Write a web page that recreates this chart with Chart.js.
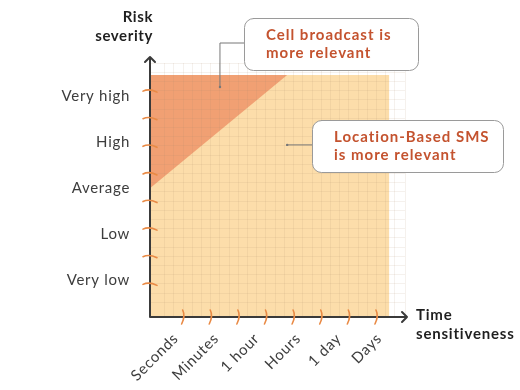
<!DOCTYPE html>
<html>
<head>
<meta charset="utf-8">
<script src="https://cdn.jsdelivr.net/npm/chart.js@4"></script>
<style>
html,body{margin:0;padding:0;background:#fff;}
canvas{display:block;}
</style>
</head>
<body>
<canvas id="c" width="520" height="390"></canvas>
<script>
// ---- data ----
const severityLabels = ['Very low', 'Low', 'Average', 'High', 'Very high'];
const severityValues = [3.35, 8.35, 13.35, 18.35, 23.35];
const timeLabels = ['Seconds', 'Minutes', '1 hour', 'Hours', '1 day', 'Days'];
const timeValues = [2.2, 6.6, 11.0, 15.5, 19.9, 24.3];
const xTickValues = [3, 6, 9, 12, 15, 18, 21, 24];
const yTickValues = [3, 6, 9, 12, 15, 18, 21, 24];
const smsRegion = [{x: -0.6, y: 25.7}, {x: 25.4, y: 25.7}];
const cellRegionEdge = [{x: -0.6, y: 13.4}, {x: 14.3, y: 25.7}];
const regionTop = 25.7;
const axisMin = -0.6;
const callouts = [
  {lines: ['Cell broadcast is', 'more relevant'], point: {x: 7.0, y: 24.4}},
  {lines: ['Location-Based SMS', 'is more relevant'], point: {x: 14.3, y: 18.1}}
];

const FONT = 'Lato, "Open Sans", sans-serif';

const decor = {
  id: 'decor',
  afterDraw(chart) {
    const ctx = chart.ctx;
    const xs = chart.scales.x, ys = chart.scales.y;
    const ox = xs.getPixelForValue(axisMin), oy = ys.getPixelForValue(axisMin);
    ctx.save();
    // axes
    ctx.strokeStyle = '#3a3a3a';
    ctx.lineWidth = 2;
    ctx.lineCap = 'round';
    ctx.lineJoin = 'round';
    const yTop = chart.chartArea.top - 6, xEnd = chart.chartArea.right + 2;
    ctx.beginPath();
    ctx.moveTo(ox, oy); ctx.lineTo(ox, yTop);
    ctx.moveTo(ox - 5, yTop + 5); ctx.lineTo(ox, yTop); ctx.lineTo(ox + 5, yTop + 5);
    ctx.moveTo(ox, oy); ctx.lineTo(xEnd, oy);
    ctx.moveTo(xEnd - 5, oy - 5); ctx.lineTo(xEnd, oy); ctx.lineTo(xEnd - 5, oy + 5);
    ctx.stroke();

    // orange tick marks
    ctx.strokeStyle = '#E98A45';
    ctx.lineWidth = 1.6;
    yTickValues.forEach(v => {
      const y = ys.getPixelForValue(v);
      ctx.beginPath();
      ctx.moveTo(ox - 7, y + 0.5);
      ctx.quadraticCurveTo(ox - 1, y - 2.5, ox + 7, y + 1.5);
      ctx.stroke();
    });
    xTickValues.forEach(v => {
      const x = xs.getPixelForValue(v);
      ctx.beginPath();
      ctx.moveTo(x - 0.5, oy - 7);
      ctx.quadraticCurveTo(x + 2.5, oy - 1, x - 1.5, oy + 7);
      ctx.stroke();
    });

    // y labels
    ctx.fillStyle = '#3d3d3d';
    ctx.font = '15px ' + FONT;
    ctx.letterSpacing = '0.7px';
    ctx.textAlign = 'right';
    ctx.textBaseline = 'middle';
    severityLabels.forEach((t, i) => {
      ctx.fillText(t, ox - 20, ys.getPixelForValue(severityValues[i]));
    });
    // x labels rotated
    timeLabels.forEach((t, i) => {
      const x = xs.getPixelForValue(timeValues[i]);
      ctx.save();
      ctx.translate(x, oy + 19);
      ctx.rotate(-Math.PI / 4);
      ctx.textAlign = 'right';
      ctx.textBaseline = 'middle';
      ctx.fillText(t, 0, 0);
      ctx.restore();
    });

    // axis titles
    ctx.fillStyle = '#1f1f1f';
    ctx.font = 'bold 15px ' + FONT;
    ctx.letterSpacing = '0.6px';
    ctx.textAlign = 'right';
    ctx.fillText('Risk', ox + 3, 17);
    ctx.fillText('severity', ox + 3, 36);
    ctx.textAlign = 'left';
    ctx.letterSpacing = '0.8px';
    ctx.fillText('Time', xEnd + 9, oy - 2);
    ctx.fillText('sensitiveness', xEnd + 9, oy + 17);

    // callouts
    const boxes = [{x: 244, y: 18, w: 174, h: 52}, {x: 312, y: 120, w: 191, h: 52}];
    callouts.forEach((c, i) => {
      const b = boxes[i];
      const px = xs.getPixelForValue(c.point.x), py = ys.getPixelForValue(c.point.y);
      ctx.strokeStyle = '#777';
      ctx.lineWidth = 1;
      ctx.beginPath();
      if (i === 0) {
        const ly = b.y + 25;
        ctx.moveTo(b.x, ly); ctx.lineTo(px, ly); ctx.lineTo(px, py);
      } else {
        ctx.moveTo(px, py); ctx.lineTo(b.x, py);
      }
      ctx.stroke();
      ctx.fillStyle = '#777';
      ctx.beginPath(); ctx.arc(px, py, 1.2, 0, Math.PI * 2); ctx.fill();
      ctx.fillStyle = '#fff';
      ctx.strokeStyle = '#9a9a9a';
      ctx.beginPath();
      ctx.roundRect(b.x + 0.5, b.y + 0.5, b.w, b.h, 9);
      ctx.fill(); ctx.stroke();
      ctx.fillStyle = '#C4532F';
      ctx.font = 'bold 15px ' + FONT;
      ctx.letterSpacing = '1px';
      ctx.textAlign = 'left';
      ctx.textBaseline = 'middle';
      ctx.fillText(c.lines[0], b.x + 22, b.y + 17);
      ctx.fillText(c.lines[1], b.x + 22, b.y + 35);
    });
    ctx.restore();
  }
};

new Chart(document.getElementById('c'), {
  type: 'scatter',
  data: {
    datasets: [
      {
        data: cellRegionEdge,
        showLine: true,
        borderWidth: 0,
        pointRadius: 0,
        backgroundColor: '#F1A073',
        fill: {value: regionTop}
      },
      {
        data: smsRegion,
        showLine: true,
        borderWidth: 0,
        pointRadius: 0,
        backgroundColor: '#FCDDAA',
        fill: {value: axisMin}
      }
    ]
  },
  options: {
    responsive: false,
    animation: false,
    events: [],
    layout: {padding: {left: 150, right: 115, top: 63, bottom: 73}},
    plugins: {legend: {display: false}, tooltip: {enabled: false}},
    scales: {
      x: {
        type: 'linear', min: axisMin, max: 27.1,
        ticks: {display: false, stepSize: 1},
        grid: {color: 'rgba(170,140,110,0.12)', drawTicks: false, z: 1},
        border: {display: false}
      },
      y: {
        type: 'linear', min: axisMin, max: 27.0,
        ticks: {display: false, stepSize: 1},
        grid: {color: 'rgba(170,140,110,0.12)', drawTicks: false, z: 1},
        border: {display: false}
      }
    }
  },
  plugins: [decor]
});
</script>
</body>
</html>
